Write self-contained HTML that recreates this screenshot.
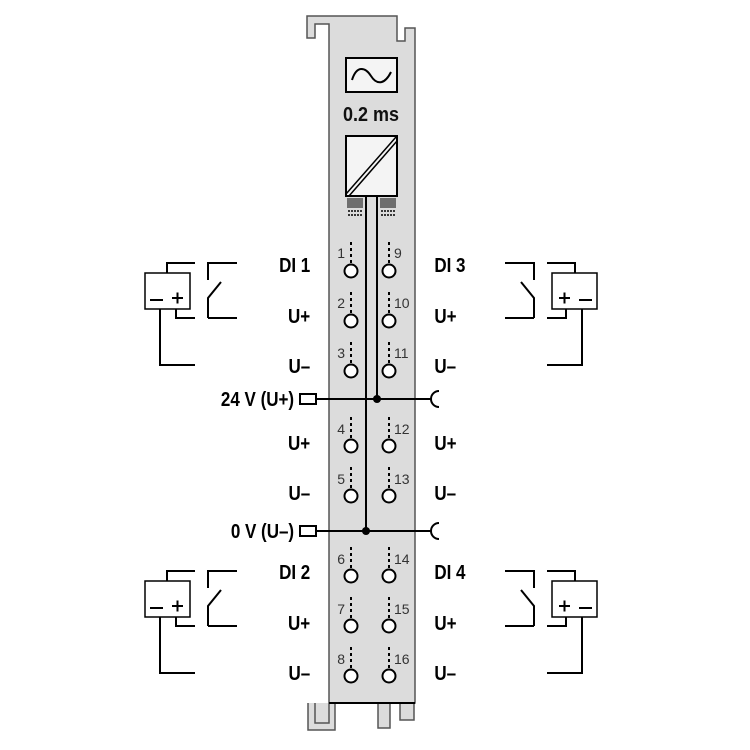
<!DOCTYPE html>
<html><head><style>body{margin:0;background:#fff}svg{display:block}text{font-family:"Liberation Sans",sans-serif}</style></head><body>
<svg width="750" height="750" viewBox="0 0 750 750" xmlns="http://www.w3.org/2000/svg">
<defs>
<g id="circ" fill="none" stroke="#000" stroke-width="2">
<path d="M167,273 V263 H195"/>
<path d="M208,280 V263 H237"/>
<path d="M208,318 V298 L221,282"/>
<path d="M208,318 H237"/>
<rect x="145" y="273" width="45" height="36" stroke-width="1.5"/>
<path d="M176,309 V318 H195"/>
<path d="M160,309 V365 H195"/>
<path d="M150,300 H163 M172,298 H183 M177.5,292.5 V303.5"/>
</g>
<g id="term" fill="none" stroke="#000">
<line x1="0" y1="-29" x2="0" y2="-7" stroke-width="2" stroke-dasharray="3,3"/>
<circle cx="0" cy="0" r="6.5" fill="#fff" stroke-width="2"/>
</g>
</defs>
<path d="M307,16 H397 V41 H405 V28 H415 V703 H329 V24 H315 V38 H307 Z" fill="#dcdcdc" stroke="#555" stroke-width="1.5"/>
<path d="M308,703 V730 H335 V703 M378,703 V728 H390 V703 M400,703 V720 H414 V703" fill="#dcdcdc" stroke="#555" stroke-width="1.5"/>
<path d="M315,703 V723 H329 V703" fill="none" stroke="#555" stroke-width="1.5"/>
<line x1="329" y1="703" x2="415" y2="703" stroke="#000" stroke-width="2"/>
<rect x="346" y="58" width="51" height="34" fill="#f4f4f4" stroke="#000" stroke-width="2"/>
<path d="M352,80 C357,64 366,68 371,76 C376,84 384,86 391,72" fill="none" stroke="#000" stroke-width="2"/>
<text x="371" y="121" font-size="20" text-anchor="middle" transform="translate(371,0) scale(0.9,1) translate(-371,0)" font-weight="bold" fill="#111">0.2 ms</text>
<rect x="346" y="136" width="51" height="60" fill="#f4f4f4" stroke="#000" stroke-width="2"/>
<path d="M346,194 L396,137 M349,196 L397,141" stroke="#000" stroke-width="1.5"/>
<g stroke="#000" stroke-width="1">
<path d="M348,198 V208 M350,198 V208 M352,198 V208 M354,198 V208 M356,198 V208 M358,198 V208 M360,198 V208 M362,198 V208"/>
<path d="M381,198 V208 M383,198 V208 M385,198 V208 M387,198 V208 M389,198 V208 M391,198 V208 M393,198 V208 M395,198 V208"/>
<path d="M348,211 H362 M348,215 H362 M381,211 H395 M381,215 H395" stroke-width="1.5" stroke-dasharray="2,1"/>
</g>
<line x1="366" y1="196" x2="366" y2="531" stroke="#000" stroke-width="2"/>
<line x1="377" y1="196" x2="377" y2="399" stroke="#000" stroke-width="2"/>
<line x1="316" y1="399" x2="432" y2="399" stroke="#000" stroke-width="2"/>
<line x1="316" y1="531" x2="432" y2="531" stroke="#000" stroke-width="2"/>
<rect x="300" y="394" width="16" height="10" fill="#fff" stroke="#000" stroke-width="2"/>
<rect x="300" y="526" width="16" height="10" fill="#fff" stroke="#000" stroke-width="2"/>
<path d="M439,391 A8,8 0 0 0 439,407" fill="none" stroke="#000" stroke-width="2"/>
<path d="M439,523 A8,8 0 0 0 439,539" fill="none" stroke="#000" stroke-width="2"/>
<circle cx="377" cy="399" r="4"/>
<circle cx="366" cy="531" r="4"/>
<g>
<use href="#term" x="351" y="271"/><use href="#term" x="389" y="271"/>
<use href="#term" x="351" y="321"/><use href="#term" x="389" y="321"/>
<use href="#term" x="351" y="371"/><use href="#term" x="389" y="371"/>
<use href="#term" x="351" y="446"/><use href="#term" x="389" y="446"/>
<use href="#term" x="351" y="496"/><use href="#term" x="389" y="496"/>
<use href="#term" x="351" y="576"/><use href="#term" x="389" y="576"/>
<use href="#term" x="351" y="626"/><use href="#term" x="389" y="626"/>
<use href="#term" x="351" y="676"/><use href="#term" x="389" y="676"/>
</g>
<g font-size="14" fill="#333">
<text x="345" y="258" text-anchor="end">1</text><text x="394" y="258">9</text>
<text x="345" y="308" text-anchor="end">2</text><text x="394" y="308">10</text>
<text x="345" y="358" text-anchor="end">3</text><text x="394" y="358">11</text>
<text x="345" y="434" text-anchor="end">4</text><text x="394" y="434">12</text>
<text x="345" y="484" text-anchor="end">5</text><text x="394" y="484">13</text>
<text x="345" y="564" text-anchor="end">6</text><text x="394" y="564">14</text>
<text x="345" y="614" text-anchor="end">7</text><text x="394" y="614">15</text>
<text x="345" y="664" text-anchor="end">8</text><text x="394" y="664">16</text>
</g>
<g font-size="20" font-weight="bold" fill="#000" transform="scale(0.85,1)">
<g text-anchor="end">
<text x="365" y="272">DI 1</text>
<text x="365" y="323">U+</text>
<text x="365" y="373">U–</text>
<text x="346" y="406">24 V (U+)</text>
<text x="365" y="450">U+</text>
<text x="365" y="500">U–</text>
<text x="346" y="538">0 V (U–)</text>
<text x="365" y="579">DI 2</text>
<text x="365" y="630">U+</text>
<text x="365" y="680">U–</text>
</g>
<text x="511" y="272">DI 3</text>
<text x="511" y="323">U+</text>
<text x="511" y="373">U–</text>
<text x="511" y="450">U+</text>
<text x="511" y="500">U–</text>
<text x="511" y="579">DI 4</text>
<text x="511" y="630">U+</text>
<text x="511" y="680">U–</text>
</g>
<use href="#circ"/>
<use href="#circ" y="308"/>
<g transform="translate(742,0) scale(-1,1)"><use href="#circ"/><use href="#circ" y="308"/></g>
</svg>
</body></html>
